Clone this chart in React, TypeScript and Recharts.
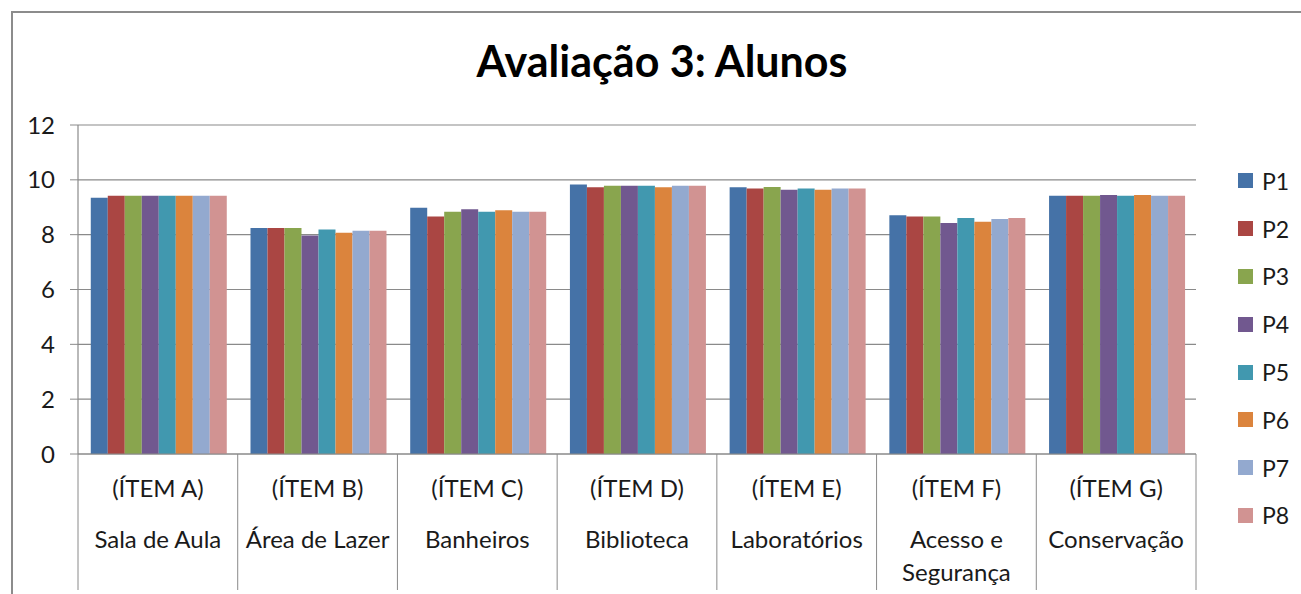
import { Bar, BarChart, CartesianGrid, XAxis, YAxis } from 'recharts';

const itemCodes = ['(ÍTEM A)', '(ÍTEM B)', '(ÍTEM C)', '(ÍTEM D)', '(ÍTEM E)', '(ÍTEM F)', '(ÍTEM G)'];
const itemNames = [['Sala de Aula'], ['Área de Lazer'], ['Banheiros'], ['Biblioteca'], ['Laboratórios'], ['Acesso e', 'Segurança'], ['Conservação']];

const seriesNames = ['P1', 'P2', 'P3', 'P4', 'P5', 'P6', 'P7', 'P8'];
const seriesColors = ['#4572A7', '#AA4643', '#89A54E', '#71588F', '#4198AF', '#DB843D', '#93A9CF', '#D19392'];

const p1 = [9.35, 8.24, 8.98, 9.83, 9.73, 8.71, 9.42];
const p2 = [9.42, 8.24, 8.66, 9.73, 9.68, 8.66, 9.42];
const p3 = [9.42, 8.24, 8.84, 9.78, 9.74, 8.66, 9.42];
const p4 = [9.42, 7.97, 8.93, 9.78, 9.64, 8.43, 9.45];
const p5 = [9.42, 8.19, 8.84, 9.78, 9.68, 8.61, 9.42];
const p6 = [9.42, 8.07, 8.89, 9.73, 9.64, 8.47, 9.45];
const p7 = [9.42, 8.14, 8.84, 9.78, 9.68, 8.57, 9.42];
const p8 = [9.42, 8.14, 8.84, 9.78, 9.68, 8.61, 9.42];
const seriesValues = [p1, p2, p3, p4, p5, p6, p7, p8];

const yTicks = [0, 2, 4, 6, 8, 10, 12];

const data = itemCodes.map((code, i) => {
  const row: Record<string, any> = { code, idx: i };
  seriesNames.forEach((s, k) => {
    row[s] = seriesValues[k][i];
  });
  return row;
});

const W = 1301;
const H = 594;
const PLOT_LEFT = 78;
const PLOT_RIGHT = 1196;
const PLOT_TOP = 125;
const AXIS_H = 140;
const BAND = (PLOT_RIGHT - PLOT_LEFT) / itemCodes.length;
const FONT = 'Lato, "Open Sans", sans-serif';
const GRID = '#8a8a8a';
const TEXT = '#1a1a1a';

function CategoryTick(props: any) {
  const { x, y, payload, index } = props;
  const i = payload.index ?? index;
  const names = itemNames[i] || [];
  const axisY = y - 8;
  return (
    <g>
      <line x1={x - BAND / 2} x2={x - BAND / 2} y1={axisY} y2={axisY + 136} stroke={GRID} strokeWidth={1} />
      {i === itemCodes.length - 1 && (
        <line x1={x + BAND / 2} x2={x + BAND / 2} y1={axisY} y2={axisY + 136} stroke={GRID} strokeWidth={1} />
      )}
      <text x={x} y={axisY + 43} textAnchor="middle" fontSize={24} fill={TEXT} fontFamily={FONT}>
        {itemCodes[i]}
      </text>
      {names.map((n, k) => (
        <text key={k} x={x} y={axisY + 94 + k * 33} textAnchor="middle" fontSize={24} fill={TEXT} fontFamily={FONT}>
          {n}
        </text>
      ))}
    </g>
  );
}

export default function App() {
  return (
    <div style={{ position: 'absolute', left: 0, top: 0, width: W, height: H, background: '#fff', overflow: 'hidden' }}>
      <div
        style={{
          position: 'absolute',
          left: 11,
          top: 11,
          width: W,
          height: H,
          borderTop: '2px solid #8c8c8c',
          borderLeft: '2px solid #8c8c8c',
        }}
      />
      <div
        style={{
          position: 'absolute',
          left: 0,
          width: 1324,
          top: 36,
          lineHeight: '50px',
          textAlign: 'center',
          fontFamily: FONT,
          fontWeight: 700,
          fontSize: 43,
          color: '#000',
        }}
      >
        Avaliação 3: Alunos
      </div>
      <div style={{ position: 'absolute', left: 0, top: 0 }}>
        <BarChart
          width={W}
          height={H}
          data={data}
          margin={{ top: PLOT_TOP, right: W - PLOT_RIGHT, bottom: 0, left: 18 }}
          barCategoryGap="8%"
          barGap={0}
        >
          <CartesianGrid vertical={false} stroke={GRID} strokeWidth={1.2} />
          <XAxis
            dataKey="code"
            height={AXIS_H}
            tickLine={false}
            axisLine={{ stroke: GRID, strokeWidth: 1.2 }}
            tick={<CategoryTick />}
            interval={0}
          />
          <YAxis
            width={60}
            domain={[0, 12]}
            ticks={yTicks}
            tickSize={8}
            tickMargin={15}
            tickLine={{ stroke: GRID }}
            axisLine={{ stroke: GRID, strokeWidth: 1.2 }}
            tick={{ fontSize: 24, fill: TEXT, fontFamily: FONT }}
          />
          {seriesNames.map((s, k) => (
            <Bar key={s} dataKey={s} fill={seriesColors[k]} isAnimationActive={false} />
          ))}
        </BarChart>
      </div>
      <div style={{ position: 'absolute', left: 1238, top: 157, fontFamily: FONT, fontSize: 23, color: TEXT }}>
        {seriesNames.map((s, k) => (
          <div key={s} style={{ height: 47.8, display: 'flex', alignItems: 'center' }}>
            <span style={{ width: 15, height: 15, background: seriesColors[k], display: 'inline-block', marginRight: 9 }} />
            {s}
          </div>
        ))}
      </div>
    </div>
  );
}
